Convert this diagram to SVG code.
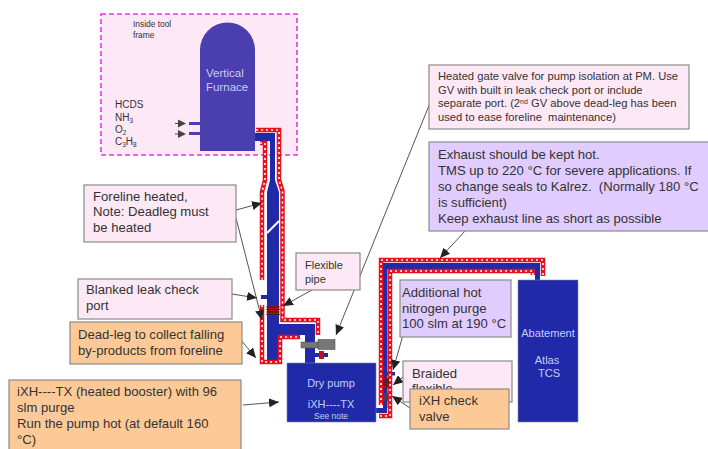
<svg xmlns="http://www.w3.org/2000/svg" width="708" height="449" viewBox="0 0 708 449">
<style>
text{font-family:"Liberation Sans",Arial,sans-serif;fill:#333}
.lt{fill:#c6cdf5}
.b{stroke:#8a8a8a;stroke-width:1.2}
.pink{fill:#fde8f5}
.or{fill:#fdca97}
.pu{fill:#e0ccff}
.t12{font-size:13.1px}
.t10{font-size:11.2px}
.heatR{fill:none;stroke:#e8101c;stroke-width:4.5}
.heatW{fill:none;stroke:#fff;stroke-width:1.600;stroke-dasharray:2 3}
.pipe{fill:#2029a8}
.con{fill:none;stroke:#555;stroke-width:1;marker-end:url(#ah)}
.blk{stroke:#222;stroke-width:.8}
</style>
<defs>
<marker id="ah" markerUnits="userSpaceOnUse" markerWidth="11" markerHeight="9" refX="10" refY="4.5" orient="auto"><path d="M0 0L10 4.5L0 9z" fill="#222"/></marker>
<path id="h1" d="M256 130H279V180L282.500 191V320H318V335"/>
<path id="h2" d="M260 143H265V180L262 192V280"/>
<path id="h3" d="M262 305V362H280V337H300"/>
<path id="h4" d="M533 275V271H390V416H379"/>
<path id="h5" d="M381 405V260H543V276"/>
</defs>
<g id="tool-frame">
<rect x="101" y="14" width="196" height="141" fill="#fde8f5" stroke="#f030e0" stroke-width="1.600" stroke-dasharray="5 3"/>
<text x="133" y="27" font-size="8.400">Inside tool</text><text x="133" y="38" font-size="8.400">frame</text>
</g>
<g id="gases">
<text x="115" y="108" font-size="10">HCDS</text>
<text x="115" y="121" font-size="10">NH<tspan font-size="6.500" dy="2">3</tspan></text>
<text x="115" y="133" font-size="10">O<tspan font-size="6.500" dy="2">2</tspan></text>
<text x="115" y="145" font-size="10">C<tspan font-size="6.500" dy="2">3</tspan><tspan dy="-2">H</tspan><tspan font-size="6.500" dy="2">8</tspan></text>
<rect x="189" y="122" width="11" height="3" fill="#4b3fb0"/><rect x="189" y="132" width="11" height="3" fill="#4b3fb0"/>
<path d="M175 123.500H180M175 134H180" stroke="#444" stroke-width="1"/>
<path d="M178 119.500L186 123.500L178 127.500zM178 130L186 134L178 138z" fill="#444"/>
</g>
<g id="piping">
<path class="pipe" d="M255 133H275V180L279 192V324H315V363H305V335H279V362H267V192L270 180V141H255z"/>
<path d="M267 233L279 221" stroke="#fff" stroke-width="2.200"/>
<rect class="pipe" x="261" y="295" width="6" height="4"/>
<path class="pipe" d="M383 408V263H540V281H535V269H387.500V408z"/>
<rect class="pipe" x="387" y="372" width="8" height="3.500"/>
</g>
<g id="heaters">
<use href="#h1" class="heatR"/><use href="#h2" class="heatR"/><use href="#h3" class="heatR"/><use href="#h4" class="heatR"/><use href="#h5" class="heatR"/>
<use href="#h1" class="heatW"/><use href="#h2" class="heatW"/><use href="#h3" class="heatW"/><use href="#h4" class="heatW"/><use href="#h5" class="heatW"/>
</g>
<g id="exhaust-stub"><rect class="pipe" x="375" y="408" width="12" height="5"/></g>
<g id="flange-1"><rect x="267" y="305" width="12" height="11" fill="#a80e18"/><path class="blk" d="M266 307H280M266 309.500H280M266 312H280M266 314.500H280"/></g>
<g id="flange-2"><rect x="383" y="378" width="6" height="10" fill="#a80e18"/><path class="blk" d="M383 380H389M383 382.500H389M383 385H389"/></g>
<g id="check-valve-part"><rect x="383" y="393" width="5" height="8" fill="#3b3b7a"/></g>
<g id="gate-valve"><rect x="301" y="342" width="17" height="6" fill="#777" stroke="#555" stroke-width=".6"/><rect x="318" y="339.500" width="17" height="10" fill="#777" stroke="#555" stroke-width=".6"/></g>
<g id="small-valve"><rect x="314" y="353" width="14" height="4" fill="#2029a8"/><rect x="319" y="351" width="5" height="8" fill="#c00d18"/></g>
<g id="furnace">
<path d="M200 151V50A27.500 27.500 0 0 1 255 50V151z" fill="#4b3fb0"/>
<text x="206" y="77" font-size="11.500" class="lt">Vertical</text><text x="206" y="91" font-size="11.500" class="lt">Furnace</text>
</g>
<g id="dry-pump">
<rect x="287" y="363" width="89" height="59" fill="#2029a8" stroke="#7b82c9" stroke-width=".6"/>
<text x="331" y="387" font-size="11" text-anchor="middle" class="lt">Dry pump</text>
<text x="331" y="408" font-size="11" text-anchor="middle" class="lt">iXH----TX</text>
<text x="331" y="419" font-size="8.500" text-anchor="middle" class="lt">See note</text>
</g>
<g id="abatement">
<rect x="518" y="280" width="60" height="142" fill="#2029a8" stroke="#8a8a8a" stroke-width=".6"/>
<text x="548" y="337" font-size="11.100" text-anchor="middle" class="lt">Abatement</text>
<text x="547" y="364" font-size="11.100" text-anchor="middle" class="lt">Atlas</text>
<text x="549" y="377" font-size="11.100" text-anchor="middle" class="lt">TCS</text>
</g>
<g id="connectors">
<path class="con" d="M236 210L262 203"/>
<path class="con" d="M236 218L262 320"/>
<path class="con" d="M232 294L257 298"/>
<path class="con" d="M240 339L256 358"/>
<path class="con" d="M243 405L279 402"/>
<path class="con" d="M312 290L283 306"/>
<path class="con" d="M430 103L336 335"/>
<path class="con" d="M466 230L440 258"/>
<path class="con" d="M403 335L393 370"/>
<path class="con" d="M403 377L393 385"/>
<path class="con" d="M410 408L392 396"/>
</g>
<g id="note-foreline"><rect class="pink b" x="84" y="185" width="152" height="57"/>
<text class="t12" x="93" y="201">Foreline heated,</text><text class="t12" x="93" y="216">Note: Deadleg must</text><text class="t12" x="93" y="232">be heated</text></g>
<g id="note-blanked"><rect class="pink b" x="78" y="279" width="154" height="40"/>
<text class="t12" x="86" y="294">Blanked leak check</text><text class="t12" x="86" y="310">port</text></g>
<g id="note-deadleg"><rect class="or b" x="70" y="322" width="172" height="42"/>
<text class="t12" x="78" y="339">Dead-leg to collect falling</text><text class="t12" x="78" y="355">by-products from foreline</text></g>
<g id="note-booster"><rect class="or b" x="9" y="380" width="232" height="72"/>
<text class="t12" x="17" y="396">iXH----TX (heated booster) with 96</text><text class="t12" x="17" y="412">slm purge</text><text class="t12" x="17" y="428">Run the pump hot (at default 160</text><text class="t12" x="17" y="444">°C)</text></g>
<g id="note-flexible"><rect class="pink b" x="296" y="253" width="64" height="37"/>
<text x="305" y="269" font-size="11">Flexible</text><text x="305" y="283" font-size="11">pipe</text></g>
<g id="note-gate"><rect class="pink b" x="429" y="65" width="260" height="64"/>
<text class="t10" x="438" y="80">Heated gate valve for pump isolation at PM. Use</text>
<text class="t10" x="438" y="94">GV with built in leak check port or include</text>
<text class="t10" x="438" y="107">separate port. (2<tspan font-size="7" dy="-3">nd</tspan><tspan dy="3"> GV above dead-leg has been</tspan></text>
<text class="t10" x="438" y="121" xml:space="preserve">used to ease foreline  maintenance)</text></g>
<g id="note-exhaust"><rect class="pu b" x="429" y="142" width="282" height="89"/>
<text class="t12" x="438" y="159">Exhaust should be kept hot.</text>
<text class="t12" x="438" y="175">TMS up to 220 °C for severe applications. If</text>
<text class="t12" x="438" y="191" xml:space="preserve">so change seals to Kalrez.  (Normally 180 °C</text>
<text class="t12" x="438" y="207">is sufficient)</text>
<text class="t12" x="438" y="223">Keep exhaust line as short as possible</text></g>
<g id="note-purge"><rect class="pu b" x="400" y="280" width="111" height="57"/>
<text class="t12" x="402" y="297">Additional hot</text><text class="t12" x="402" y="313">nitrogen purge</text><text class="t12" x="402" y="328">100 slm at 190 °C</text></g>
<g id="note-braided"><rect class="pink b" x="403" y="361" width="109" height="41"/>
<text class="t12" x="412" y="378">Braided</text><text class="t12" x="412" y="393">flexible</text></g>
<g id="note-check"><rect class="or b" x="410" y="389" width="99" height="40"/>
<text class="t12" x="419" y="405">iXH check</text><text class="t12" x="419" y="421">valve</text></g>
</svg>
